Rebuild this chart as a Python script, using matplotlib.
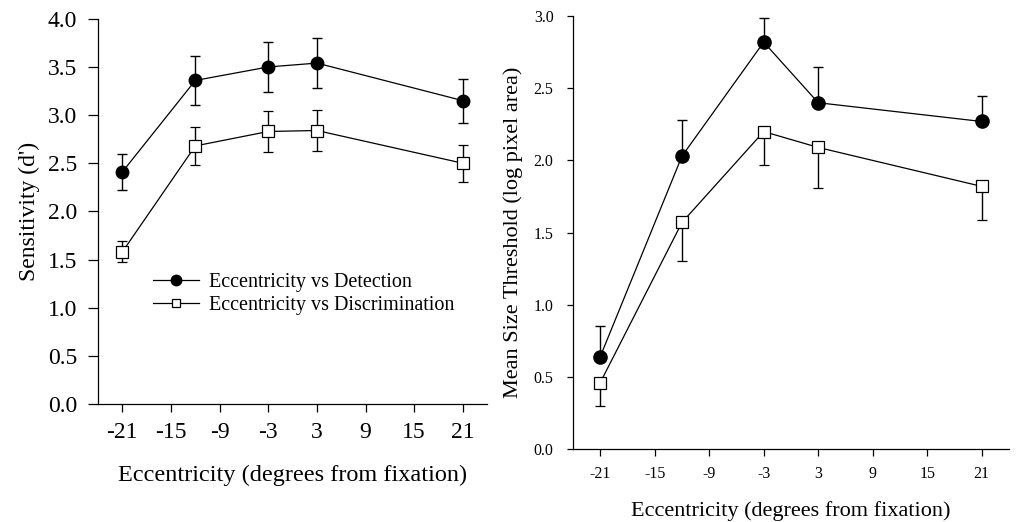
import matplotlib.pyplot as plt
from matplotlib.lines import Line2D

plt.rcParams['font.family'] = ['Liberation Serif', 'DejaVu Serif']
plt.rcParams['axes.unicode_minus'] = False

ecc = [-21, -12, -3, 3, 21]
ticks = [-21, -15, -9, -3, 3, 9, 15, 21]

# left panel: sensitivity (d')
det_d = [2.41, 3.36, 3.50, 3.54, 3.15]
det_d_err = [0.19, 0.25, 0.26, 0.26, 0.23]
dis_d = [1.58, 2.68, 2.83, 2.84, 2.50]
dis_d_err = [0.11, 0.20, 0.21, 0.21, 0.19]

# right panel: mean size threshold
det_t = [0.64, 2.03, 2.82, 2.40, 2.27]
det_t_up = [0.21, 0.25, 0.17, 0.25, 0.18]
dis_t = [0.46, 1.57, 2.20, 2.09, 1.82]
dis_t_down = [0.16, 0.27, 0.23, 0.28, 0.23]

fig = plt.figure(figsize=(10.16, 5.22), dpi=100)
ax1 = fig.add_axes([0.0965, 0.226, 0.383, 0.738])
ax2 = fig.add_axes([0.564, 0.140, 0.429, 0.829])

line_kw = dict(color='black', lw=0.9, elinewidth=1.0, capsize=3.5, capthick=1.0)

ax1.errorbar(ecc, det_d, yerr=det_d_err, marker='o', ms=9, mfc='black',
             mec='black', **line_kw)
ax1.errorbar(ecc, dis_d, yerr=dis_d_err, marker='s', ms=8, mfc='white',
             mec='black', mew=0.9, **line_kw)

ax2.errorbar(ecc, det_t, yerr=[[0] * 5, det_t_up], marker='o', ms=9.5,
             mfc='black', mec='black', **line_kw)
ax2.errorbar(ecc, dis_t, yerr=[dis_t_down, [0] * 5], marker='s', ms=8.5,
             mfc='white', mec='black', mew=0.9, **line_kw)

for ax in (ax1, ax2):
    ax.set_xlim(-24, 24)
    ax.set_xticks(ticks)
    ax.spines['top'].set_visible(False)
    ax.spines['right'].set_visible(False)
    ax.spines['left'].set_linewidth(0.9)
    ax.spines['bottom'].set_linewidth(0.9)

ax1.set_ylim(0, 4)
ax1.set_yticks([0, 0.5, 1, 1.5, 2, 2.5, 3, 3.5, 4])
ax1.set_yticklabels(['%.1f' % v for v in ax1.get_yticks()])
ax1.tick_params(axis='y', labelsize=17, length=7, width=0.9, pad=8)
ax1.tick_params(axis='x', labelsize=17, length=6, width=0.9, pad=7)
ax1.set_xlabel('Eccentricity (degrees from fixation)', fontsize=17.5, labelpad=16)
ax1.set_ylabel("Sensitivity (d')", fontsize=17, labelpad=6)

handles = [
    Line2D([], [], color='black', lw=0.9, marker='o', ms=7.5, mfc='black'),
    Line2D([], [], color='black', lw=0.9, marker='s', ms=6, mfc='white', mew=0.9),
]
ax1.legend(handles, ['Eccentricity vs Detection', 'Eccentricity vs Discrimination'],
           loc='upper left', bbox_to_anchor=(0.12, 0.36), frameon=False,
           fontsize=14.5, handlelength=2.3, handletextpad=0.5, labelspacing=0.15,
           borderaxespad=0)

ax2.set_ylim(0, 3)
ax2.set_yticks([0, 0.5, 1, 1.5, 2, 2.5, 3])
ax2.set_yticklabels(['%.1f' % v for v in ax2.get_yticks()])
ax2.tick_params(axis='y', labelsize=11.5, length=4, width=0.9, pad=10)
ax2.tick_params(axis='x', labelsize=11.5, length=5, width=0.9, pad=7)
ax2.set_xlabel('Eccentricity (degrees from fixation)', fontsize=16, labelpad=14)
ax2.set_ylabel('Mean Size Threshold (log pixel area)', fontsize=16, labelpad=8)

fig.savefig('out.png', dpi=100)
